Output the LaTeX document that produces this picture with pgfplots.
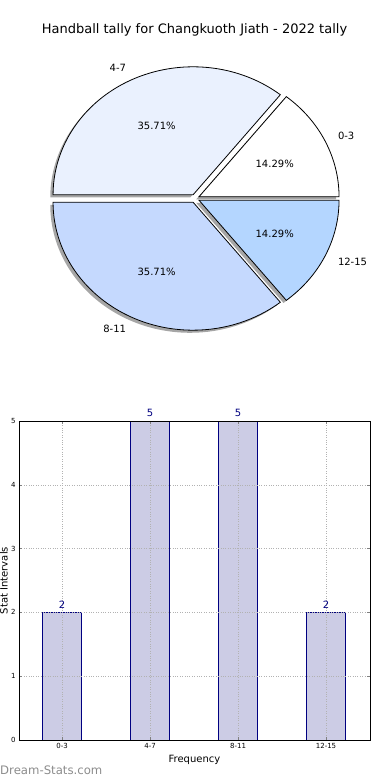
\documentclass[border=0pt]{standalone}
\usepackage{fontspec}
\setmainfont{DejaVu Sans}
\usepackage{pgfplots}
\pgfplotsset{compat=1.18}
\definecolor{w1}{RGB}{255,255,255}
\definecolor{w2}{RGB}{234,241,254}
\definecolor{w3}{RGB}{197,217,254}
\definecolor{w4}{RGB}{180,214,255}
\definecolor{barfill}{RGB}{204,204,229}
\definecolor{navy}{RGB}{0,0,128}
\begin{document}
\begin{tikzpicture}
\path[use as bounding box] (0,0) rectangle (390pt,780pt);
% ---------------- pie: values 2,5,5,2 (total 14) ----------------
\begin{axis}[at={(0pt,390pt)}, anchor=south west, scale only axis,
  width=390pt, height=390pt, xmin=0, xmax=390, ymin=390, ymax=780,
  hide axis, clip=false]
% shadows
\begin{scope}[shift={(-2.8pt,-2.6pt)}]
\fill[black!35] (axis cs:199.04,583.28) -- +(0:140pt and 128pt) arc[start angle=0, end angle=51.4286, x radius=140pt, y radius=128pt] -- cycle;
\fill[black!35] (axis cs:193.06,585.19) -- +(51.4286:140pt and 128pt) arc[start angle=51.4286, end angle=180, x radius=140pt, y radius=128pt] -- cycle;
\fill[black!35] (axis cs:193.06,577.81) -- +(180:140pt and 128pt) arc[start angle=180, end angle=308.5714, x radius=140pt, y radius=128pt] -- cycle;
\fill[black!35] (axis cs:199.04,579.72) -- +(308.5714:140pt and 128pt) arc[start angle=308.5714, end angle=360, x radius=140pt, y radius=128pt] -- cycle;
\end{scope}
% wedges
\filldraw[fill=w1, draw=black, line width=0.8pt] (axis cs:199.04,583.28) -- +(0:140pt and 128pt) arc[start angle=0, end angle=51.4286, x radius=140pt, y radius=128pt] -- cycle;
\filldraw[fill=w2, draw=black, line width=0.8pt] (axis cs:193.06,585.19) -- +(51.4286:140pt and 128pt) arc[start angle=51.4286, end angle=180, x radius=140pt, y radius=128pt] -- cycle;
\filldraw[fill=w3, draw=black, line width=0.8pt] (axis cs:193.06,577.81) -- +(180:140pt and 128pt) arc[start angle=180, end angle=308.5714, x radius=140pt, y radius=128pt] -- cycle;
\filldraw[fill=w4, draw=black, line width=0.8pt] (axis cs:199.04,579.72) -- +(308.5714:140pt and 128pt) arc[start angle=308.5714, end angle=360, x radius=140pt, y radius=128pt] -- cycle;
% labels
\begin{scope}[every node/.style={font=\fontsize{10}{12}\selectfont, inner sep=0pt}]
\node[anchor=west] at (axis cs:337.8,644.4) {0-3};
\node[anchor=east] at (axis cs:126.2,712.05) {4-7};
\node[anchor=east] at (axis cs:126.2,450.95) {8-11};
\node[anchor=west] at (axis cs:337.8,518.6) {12-15};
\node at (axis cs:274.7,616.6) {14.29\%};
\node at (axis cs:156.6,654.4) {35.71\%};
\node at (axis cs:156.6,508.6) {35.71\%};
\node at (axis cs:274.7,546.4) {14.29\%};
\end{scope}
\node[font=\fontsize{13}{15}\selectfont, inner sep=0pt] at (axis cs:194.5,750) {Handball tally for Changkuoth Jiath - 2022 tally};
\end{axis}
% ---------------- bars ----------------
\begin{axis}[at={(19pt,40pt)}, anchor=south west, scale only axis,
  width=351pt, height=319pt,
  xmin=-0.49, xmax=3.5, ymin=0, ymax=5,
  xtick={0,1,2,3}, xticklabels={0-3,4-7,8-11,12-15},
  ytick={0,1,2,3,4,5},
  /pgf/number format/assume math mode=true,
  tick label style={font=\fontsize{7}{8}\selectfont},
  tick align=inside, major tick length=3pt, tick style={gray, thin},
  grid=major, grid style={dotted, gray!60, line width=0.6pt},
  axis on top, axis line style={black, line width=0.8pt},
  xlabel={Frequency}, ylabel={Stat Intervals},
  label style={font=\fontsize{10}{12}\selectfont},
  xlabel style={at={(axis description cs:0.5,-0.063)}, anchor=center},
  ylabel style={at={(axis description cs:-0.043,0.5)}, anchor=center},
  clip=false]
\addplot[ybar, bar width=0.45, fill=barfill, draw=navy, line width=0.8pt,
  nodes near coords, every node near coord/.append style={text=navy, font=\fontsize{10}{12}\selectfont, inner sep=0pt, yshift=3.5pt}]
  coordinates {(0,2) (1,5) (2,5) (3,2)};
\end{axis}
\node[anchor=west, inner sep=0pt, text=black!45, font=\fontsize{11.7}{14}\selectfont] at (0pt,10pt) {Dream-Stats.com};
\end{tikzpicture}
\end{document}
